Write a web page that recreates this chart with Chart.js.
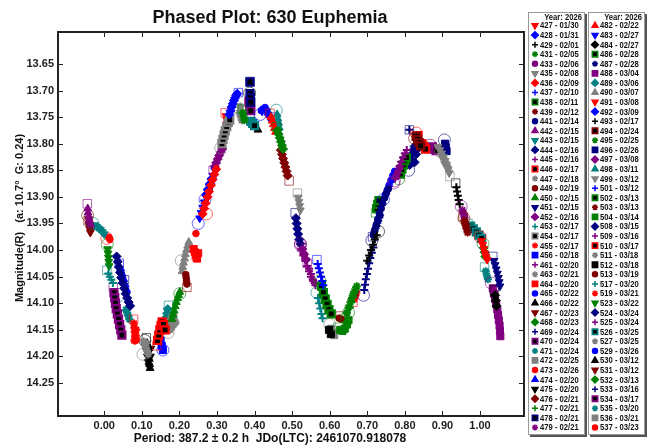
<!DOCTYPE html>
<html>
<head>
<meta charset="utf-8">
<script src="https://cdn.jsdelivr.net/npm/chart.js@4.4.1/dist/chart.umd.min.js"></script>
<style>
  html, body { margin: 0; padding: 0; background: #fff; }
  #wrap { width: 651px; height: 447px; position: relative; }
</style>
</head>
<body>
<div id="wrap"><canvas id="phased"></canvas></div>
<script>
const titleText = 'Phased Plot: 630 Euphemia';
const xTitle = 'Period: 387.2 \u00b1 0.2 h  JDo(LTC): 2461070.918078';
const yTitle = 'Magnitude(R)   (a: 10.7\u00b0  G: 0.24)';
const legendTitle = 'Year: 2026';

const xTicks = [0, 0.1, 0.2, 0.3, 0.4, 0.5, 0.6, 0.7, 0.8, 0.9, 1.0];
const yTicks = [13.65, 13.70, 13.75, 13.80, 13.85, 13.90, 13.95, 14.00, 14.05, 14.10, 14.15, 14.20, 14.25];

const sessions = ['427','428','429','431','433','435','436','437','438','439','441','442','443','444','445','446','447','449','450','451','452','453','454','455','456','461','463','464','465','466','467','468','469','470','471','472','473','474','475','476','477','478','479',
  '482','483','484','486','487','488','489','490','491','492','493','494','495','496','497','498','499','501','502','503','504','508','509','510','511','512','513','517','519','523','524','525','526','527','529','530','531','532','533','534','535','536','537'];
const dates = ['01/30','01/31','02/01','02/05','02/06','02/08','02/09','02/10','02/11','02/12','02/14','02/15','02/15','02/16','02/16','02/17','02/18','02/19','02/15','02/15','02/16','02/17','02/17','02/17','02/18','02/20','02/21','02/20','02/22','02/22','02/23','02/23','02/24','02/24','02/24','02/25','02/26','02/20','02/20','02/21','02/21','02/21','02/21',
  '02/22','02/27','02/27','02/28','02/28','03/04','03/06','03/07','03/08','03/09','02/17','02/24','02/25','02/26','03/08','03/11','03/12','03/12','03/13','03/13','03/14','03/15','03/16','03/17','03/18','03/18','03/19','03/20','03/21','03/22','03/24','03/24','03/25','03/25','03/26','03/12','03/12','03/13','03/16','03/17','03/20','03/21','03/23'];
const markers = ['tdn','dia','plus','ast','cir','tdn','dia','plus','sqb','ast','cir','tup','tdn','dia','plus','sqb','ast','cir','tup','tdn','dia','plus','sqb','ast','sq','plus','ast','sq','cir','tup','tdn','dia','plus','sqb','ast','sq','cir','tup','tdn','dia','plus','sqb','ast',
  'tup','tdn','dia','sqb','ast','sq','dia','tup','tdn','dia','plus','sqb','ast','sq','dia','tup','tdn','plus','sqb','ast','sq','dia','plus','sqb','ast','sq','cir','plus','ast','tdn','dia','plus','sqb','ast','cir','tup','tdn','dia','plus','sqb','ast','sq','cir'];
const colorNames = ['red','blue','black','green','purple','gray','red','blue','green','darkred','navy','purple','teal','navy','purple','red','gray','darkred','green','navy','purple','teal','gray','red','blue','purple','gray','red','blue','black','darkred','green','navy','purple','teal','gray','red','blue','black','darkred','green','navy','purple',
  'red','blue','black','green','navy','purple','teal','gray','red','blue','black','darkred','green','navy','purple','teal','gray','blue','green','darkred','green','navy','purple','red','gray','black','darkred','teal','red','green','navy','purple','teal','gray','blue','black','darkred','green','navy','purple','teal','gray','red'];

// [phase, magnitude] per session, same order as sessions
const points = [
  [[1.000,13.975],[1.004,13.983],[1.007,13.990],[1.010,13.998],[1.013,14.006],[1.016,14.012],[1.019,14.018]], // 427
  [[0.357,13.704],[0.333,13.745],[0.336,13.738],[0.339,13.731],[0.342,13.725],[0.345,13.719],[0.348,13.714],[0.351,13.709],[0.354,13.706]], // 428
  [[0.730,13.965],[0.700,14.020],[0.705,14.010],[0.710,14.000],[0.715,13.990],[0.720,13.980],[0.725,13.972]], // 429
  [[0.642,14.128],[0.646,14.118],[0.650,14.108],[0.655,14.098],[0.659,14.090],[0.663,14.082],[0.668,14.074],[0.672,14.068]], // 431
  [[0.772,13.870],[0.777,13.862],[0.781,13.853],[0.786,13.845]], // 433
  [[0.920,13.862],[0.888,13.806],[0.893,13.812],[0.898,13.818],[0.903,13.825],[0.907,13.832],[0.911,13.840],[0.915,13.848],[0.918,13.855],[0.896,13.822],[0.906,13.838]], // 435
  [[0.272,13.932],[0.262,13.932],[0.266,13.922],[0.270,13.912],[0.275,13.900],[0.279,13.890],[0.284,13.878],[0.288,13.868],[0.293,13.858],[0.298,13.848]], // 436
  [[0.566,14.018],[0.568,14.026],[0.571,14.034],[0.574,14.042],[0.577,14.050],[0.580,14.058],[0.583,14.066]], // 437
  [[0.574,14.058],[0.578,14.068],[0.583,14.080],[0.588,14.092],[0.593,14.102],[0.598,14.112],[0.604,14.120]], // 438
  [[0.955,13.937],[0.958,13.945],[0.961,13.952],[0.964,13.960],[0.967,13.967]], // 439
  [[0.712,13.982],[0.716,13.972],[0.720,13.962],[0.724,13.952],[0.728,13.942],[0.732,13.932],[0.737,13.922],[0.741,13.912],[0.746,13.902],[0.751,13.893],[0.756,13.885]], // 441
  [[-0.045,13.913],[-0.044,13.922],[-0.043,13.930],[-0.041,13.938],[-0.039,13.945],[-0.036,13.952]], // 442
  [[-0.030,13.950],[-0.025,13.953],[-0.020,13.956],[-0.015,13.959],[-0.010,13.962],[-0.005,13.966],[0.000,13.970]], // 443
  [[0.054,14.056],[0.033,14.012],[0.036,14.022],[0.039,14.032],[0.042,14.042],[0.045,14.052],[0.049,14.062],[0.053,14.072],[0.057,14.082],[0.061,14.090],[0.065,14.098],[0.069,14.105]], // 444
  [[0.770,13.874],[0.774,13.866],[0.778,13.858],[0.782,13.850],[0.786,13.842],[0.790,13.834],[0.795,13.826],[0.800,13.818],[0.805,13.812]], // 445
  [[0.140,14.180],[0.142,14.170],[0.145,14.160],[0.148,14.150],[0.151,14.142],[0.154,14.135],[0.158,14.140],[0.162,14.150]], // 446
  [[0.103,14.196],[0.105,14.172],[0.108,14.178],[0.111,14.184],[0.114,14.190],[0.117,14.196],[0.112,14.175]], // 447
  [[0.220,14.070],[0.217,14.046],[0.218,14.052],[0.219,14.058],[0.220,14.064]], // 449
  [[0.201,14.082],[0.180,14.130],[0.183,14.122],[0.186,14.114],[0.189,14.106],[0.192,14.098],[0.195,14.091],[0.198,14.085],[0.201,14.079]], // 450
  [[1.034,14.012],[1.037,14.020],[1.040,14.028],[1.043,14.036],[1.046,14.044],[1.049,14.052],[1.051,14.060],[1.053,14.068]], // 451
  [[0.522,13.988],[0.527,13.998],[0.532,14.008],[0.537,14.018]], // 452
  [[0.007,14.038],[0.011,14.044],[0.015,14.050],[0.019,14.056],[0.023,14.062]], // 453
  [[0.310,13.808],[0.313,13.800],[0.316,13.792],[0.319,13.784],[0.322,13.776],[0.326,13.768],[0.330,13.760],[0.334,13.755]], // 454
  [[0.078,14.130],[0.079,14.138],[0.080,14.146],[0.081,14.154],[0.082,14.162],[0.083,14.170],[0.086,14.168],[0.085,14.150],[0.084,14.160],[0.080,14.170]], // 455
  [[0.156,14.188],[0.150,14.170],[0.153,14.180],[0.156,14.188]], // 456
  [[0.540,14.025],[0.545,14.035],[0.550,14.045],[0.555,14.055],[0.560,14.062]], // 461
  [[0.170,14.155],[0.175,14.150],[0.180,14.145],[0.185,14.140],[0.190,14.136]], // 463
  [[0.245,14.012],[0.238,13.998],[0.241,14.004],[0.244,14.010],[0.247,14.016],[0.250,14.006]], // 464
  [[0.743,13.905],[0.748,13.896],[0.753,13.887],[0.758,13.878],[0.763,13.869],[0.768,13.860],[0.773,13.852]], // 465
  [[0.112,14.165],[0.114,14.175],[0.116,14.185],[0.118,14.195],[0.120,14.205],[0.121,14.215],[0.122,14.222]], // 466
  [[-0.044,13.935],[-0.042,13.942],[-0.040,13.950],[-0.038,13.957],[-0.036,13.964]], // 467
  [[0.458,13.768],[0.461,13.775],[0.464,13.782],[0.467,13.789],[0.470,13.796],[0.473,13.803],[0.476,13.810]], // 468
  [[0.690,14.085],[0.692,14.075],[0.694,14.065],[0.696,14.055],[0.699,14.045],[0.702,14.035],[0.705,14.025],[0.708,14.015],[0.712,14.005],[0.716,13.995]], // 469
  [[0.024,14.070],[0.026,14.080],[0.028,14.090],[0.030,14.100],[0.032,14.110],[0.035,14.120],[0.038,14.130],[0.041,14.140],[0.044,14.150],[0.047,14.160]], // 470
  [[0.055,14.105],[0.058,14.112],[0.061,14.118],[0.064,14.124],[0.067,14.130]], // 471
  [[0.172,14.142],[0.176,14.136],[0.180,14.130],[0.184,14.125]], // 472
  [[0.007,13.978],[0.012,13.976],[0.015,13.980]], // 473
  [[0.040,14.025],[0.044,14.035],[0.048,14.045],[0.052,14.055],[0.056,14.065],[0.060,14.075]], // 474
  [[0.108,14.170],[0.110,14.180],[0.113,14.190],[0.115,14.200],[0.117,14.210],[0.119,14.218],[0.123,14.200],[0.124,14.185]], // 475
  [[0.492,13.870],[0.470,13.812],[0.473,13.820],[0.476,13.828],[0.479,13.836],[0.482,13.844],[0.485,13.852],[0.488,13.860]], // 476
  [[0.650,14.118],[0.654,14.108],[0.658,14.098],[0.662,14.088],[0.666,14.080]], // 477
  [[0.388,13.683],[0.388,13.684],[0.388,13.706],[0.389,13.714],[0.390,13.722]], // 478
  [[0.950,13.918],[0.953,13.925],[0.956,13.932],[0.959,13.939]], // 479
  [[0.441,13.743],[0.444,13.750],[0.447,13.757],[0.450,13.764],[0.453,13.771],[0.456,13.778]], // 482
  [[0.250,13.950],[0.254,13.940],[0.258,13.930],[0.262,13.920],[0.266,13.910],[0.270,13.900],[0.274,13.890],[0.279,13.880],[0.284,13.870],[0.289,13.860],[0.294,13.850]], // 483
  [[1.038,14.075],[1.040,14.085],[1.042,14.095],[1.044,14.105]], // 484
  [[0.784,13.866],[0.788,13.857],[0.792,13.848],[0.796,13.840],[0.800,13.832],[0.804,13.826]], // 486
  [[0.714,13.975],[0.719,13.965],[0.724,13.955],[0.729,13.945],[0.734,13.935]], // 487
  [[1.030,14.062],[1.034,14.072],[1.037,14.082],[1.040,14.092],[1.043,14.102],[1.046,14.112],[1.048,14.122],[1.050,14.132],[1.052,14.142],[1.053,14.152],[1.054,14.162]], // 488
  [[0.171,14.104],[0.161,14.143],[0.163,14.135],[0.165,14.127],[0.167,14.119],[0.169,14.111]], // 489
  [[0.205,14.020],[0.207,14.040],[0.209,14.032],[0.211,14.024],[0.214,14.016],[0.216,14.008],[0.219,14.000],[0.222,13.992],[0.225,13.985]], // 490
  [[0.322,13.742],[0.324,13.748],[0.326,13.755],[0.327,13.762]], // 491
  [[0.268,13.905],[0.272,13.895],[0.277,13.885],[0.282,13.875],[0.287,13.865]], // 492
  [[0.935,13.874],[0.937,13.882],[0.939,13.890],[0.941,13.898],[0.943,13.906],[0.946,13.914]], // 493
  [[0.826,13.790],[0.830,13.786],[0.834,13.792],[0.838,13.798],[0.842,13.804]], // 494
  [[0.367,13.735],[0.369,13.742],[0.371,13.749],[0.373,13.756]], // 495
  [[0.905,13.793],[0.907,13.800],[0.909,13.807],[0.911,13.814]], // 496
  [[0.290,13.850],[0.294,13.843],[0.298,13.836],[0.302,13.829],[0.306,13.822],[0.310,13.816],[0.314,13.810]], // 497
  [[0.458,13.737],[0.460,13.745],[0.462,13.753],[0.464,13.761],[0.466,13.770]], // 498
  [[0.514,13.893],[0.516,13.901],[0.518,13.909],[0.520,13.917],[0.522,13.925]], // 499
  [[0.415,13.745],[0.420,13.740],[0.425,13.735],[0.430,13.738],[0.435,13.745],[0.440,13.750]], // 501
  [[0.722,13.930],[0.725,13.922],[0.728,13.914],[0.731,13.907]], // 502
  [[0.957,13.940],[0.960,13.948],[0.963,13.955]], // 503
  [[0.622,14.145],[0.628,14.150],[0.634,14.152],[0.640,14.148],[0.646,14.140],[0.650,14.132]], // 504
  [[0.810,13.850],[0.813,13.840],[0.816,13.830],[0.819,13.820],[0.822,13.812],[0.826,13.805],[0.830,13.820],[0.826,13.835],[0.834,13.810]], // 508
  [[0.525,13.995],[0.530,14.005],[0.535,14.015]], // 509
  [[0.830,13.780],[0.835,13.785],[0.845,13.800],[0.850,13.805],[0.855,13.810]], // 510
  [[0.357,13.735],[0.360,13.742],[0.363,13.749],[0.366,13.756],[0.362,13.730]], // 511
  [[0.387,13.705],[0.388,13.712],[0.389,13.719],[0.598,14.150],[0.603,14.158]], // 512
  [[0.628,14.124],[0.625,14.128],[0.631,14.130]], // 513
  [[0.566,14.080],[0.569,14.090],[0.572,14.100],[0.575,14.110],[0.578,14.120],[0.581,14.128]], // 517
  [[0.662,14.098],[0.665,14.092],[0.668,14.086],[0.671,14.080]], // 519
  [[0.008,13.990],[0.009,13.998],[0.010,14.006],[0.011,14.014],[0.012,14.022],[0.013,14.030]], // 523
  [[0.508,13.930],[0.510,13.940],[0.512,13.950],[0.514,13.960],[0.516,13.970],[0.519,13.980],[0.522,13.988]], // 524
  [[0.522,13.990],[0.526,14.000],[0.530,14.010],[0.535,14.020],[0.540,14.030],[0.545,14.040],[0.550,14.050],[0.556,14.058],[0.562,14.066]], // 525
  [[0.968,13.950],[0.975,13.955],[0.982,13.960],[0.990,13.966],[0.997,13.972],[1.004,13.978],[0.390,13.758],[0.395,13.762],[0.400,13.766]], // 526
  [[0.895,13.815],[0.900,13.822],[0.905,13.830],[0.910,13.838],[0.915,13.846]], // 527
  [[0.448,13.750],[0.418,13.738],[0.422,13.735],[0.428,13.732],[0.433,13.738],[0.438,13.745],[0.443,13.752]], // 529
  [[0.409,13.774]], // 530
  [[-0.043,13.945],[-0.041,13.953],[-0.039,13.960],[-0.037,13.967]], // 531
  [[1.008,13.988],[1.010,13.996],[1.012,14.004],[1.014,14.012]], // 532
  [[0.812,13.774],[0.812,13.774]], // 533
  [[0.868,13.803],[0.873,13.806],[0.878,13.810],[0.883,13.813],[0.385,13.722],[0.387,13.730],[0.390,13.738]], // 534
  [[1.012,14.032],[1.015,14.040],[1.018,14.048],[1.021,14.055]], // 535
  [[0.600,14.140],[0.604,14.148],[0.608,14.155],[0.612,14.160]], // 536
  [[0.244,13.969]] // 537
];

const palette = {
  red: '#ff0000', blue: '#0000ff', black: '#000000', green: '#008000', purple: '#800080',
  gray: '#808080', darkred: '#800000', navy: '#000080', teal: '#008080'
};
const shapeStyle = {
  tup:  { style: 'triangle', rot: 0,   r: 4.5 },
  tdn:  { style: 'triangle', rot: 180, r: 4.5 },
  dia:  { style: 'rectRot',  rot: 0,   r: 4.5 },
  plus: { style: 'cross',    rot: 0,   r: 4 },
  ast:  { style: 'star',     rot: 0,   r: 4 },
  cir:  { style: 'circle',   rot: 0,   r: 3.3 },
  sqb:  { style: 'rect',     rot: 0,   r: 5 },
  sq:   { style: 'rect',     rot: 0,   r: 5 }
};
const textFont = '"Liberation Sans", Arial, sans-serif';

function hexAlpha(hex, a) {
  const n = parseInt(hex.slice(1), 16);
  return `rgba(${n >> 16},${(n >> 8) & 255},${n & 255},${a})`;
}

// first point of a session is drawn as a hollow outline marker
const isOutline = c => c.dataIndex === 0 && c.dataset.data.length > 1;

const datasets = sessions.map((s, i) => {
  const col = palette[colorNames[i]];
  const sh = shapeStyle[markers[i]];
  const lineOnly = markers[i] === 'plus' || markers[i] === 'ast';
  return {
    label: `${s} - ${dates[i]}`,
    data: points[i].map(([x, y]) => ({ x, y })),
    showLine: false,
    pointStyle: c => isOutline(c) ? (i % 2 ? 'rect' : 'circle') : sh.style,
    pointRotation: c => isOutline(c) ? 0 : sh.rot,
    pointRadius: c => isOutline(c) ? 6 : sh.r,
    pointBackgroundColor: c => isOutline(c) ? 'rgba(0,0,0,0)' : (markers[i] === 'sqb' ? '#000' : col),
    pointBorderColor: c => isOutline(c) ? hexAlpha(col, 0.6) : col,
    pointBorderWidth: c => isOutline(c) ? 1 : (markers[i] === 'sqb' ? 2.2 : (lineOnly ? 2 : 1)),
  };
});

const decor = {
  id: 'decor',
  afterDraw(chart) {
    const { ctx, chartArea: a, scales: { x, y } } = chart;
    ctx.save();
    // frame + inward ticks
    ctx.strokeStyle = '#222';
    ctx.lineWidth = 2;
    ctx.strokeRect(a.left, a.top, a.right - a.left, a.bottom - a.top);
    ctx.lineWidth = 1;
    ctx.beginPath();
    xTicks.forEach(v => {
      const px = Math.round(x.getPixelForValue(v)) + 0.5;
      ctx.moveTo(px, a.top); ctx.lineTo(px, a.top + 5);
      ctx.moveTo(px, a.bottom); ctx.lineTo(px, a.bottom - 5);
    });
    yTicks.forEach(v => {
      const py = Math.round(y.getPixelForValue(v)) + 0.5;
      ctx.moveTo(a.left, py); ctx.lineTo(a.left + 5, py);
      ctx.moveTo(a.right, py); ctx.lineTo(a.right - 5, py);
    });
    ctx.stroke();

    // titles
    ctx.fillStyle = '#111';
    ctx.textAlign = 'center';
    ctx.textBaseline = 'middle';
    ctx.font = `bold 18px ${textFont}`;
    ctx.fillText(titleText, 270, 18);
    ctx.font = `bold 12px ${textFont}`;
    ctx.fillText(xTitle, 270, 439);
    ctx.save();
    ctx.translate(20, 218);
    ctx.rotate(-Math.PI / 2);
    ctx.font = `bold 11px ${textFont}`;
    ctx.fillText(yTitle, 0, 0);
    ctx.restore();

    // two-column legend
    const perCol = 43, rowH = 9.57, boxTop = 12, boxH = 423;
    [528, 588].forEach((bx, col) => {
      ctx.fillStyle = '#555';
      ctx.fillRect(bx + 2, boxTop + 2, 57, boxH);
      ctx.fillStyle = '#fff';
      ctx.fillRect(bx, boxTop, 57, boxH);
      ctx.strokeStyle = '#999';
      ctx.lineWidth = 1;
      ctx.strokeRect(bx + 0.5, boxTop + 0.5, 56, boxH - 1);
      ctx.fillStyle = '#111';
      ctx.font = `bold 9px ${textFont}`;
      ctx.textAlign = 'right';
      ctx.save();
      ctx.translate(bx + 54, boxTop + 5.5);
      ctx.scale(0.85, 1);
      ctx.fillText(legendTitle, 0, 0);
      ctx.restore();
      for (let r = 0; r < perCol; r++) {
        const i = col * perCol + r;
        if (i >= sessions.length) break;
        const ry = 25.5 + r * rowH;
        const colr = palette[colorNames[i]];
        const sh = shapeStyle[markers[i]];
        const sqb = markers[i] === 'sqb';
        ctx.fillStyle = sqb ? '#000' : colr;
        ctx.strokeStyle = colr;
        ctx.lineWidth = sqb ? 1.6 : 1.5;
        Chart.helpers.drawPoint(ctx, {
          pointStyle: sh.style, rotation: sh.rot, radius: sh.r * 0.75, borderWidth: 1
        }, bx + 7, ry);
        ctx.fillStyle = '#111';
        ctx.textAlign = 'left';
        ctx.font = `bold 9px ${textFont}`;
        ctx.save();
        ctx.translate(bx + 12, ry + 0.5);
        ctx.scale(0.85, 1);
        ctx.fillText(`${sessions[i]} - ${dates[i]}`, 0, 0);
        ctx.restore();
      }
    });
    ctx.restore();
  }
};

const tickFont = { family: textFont, size: 11, weight: 'bold' };

new Chart(document.getElementById('phased'), {
  type: 'scatter',
  data: { datasets },
  options: {
    responsive: true,
    maintainAspectRatio: false,
    animation: false,
    events: [],
    layout: { padding: { top: 32, right: 127, bottom: 0, left: 0 } },
    plugins: { legend: { display: false }, title: { display: false }, tooltip: { enabled: false } },
    scales: {
      x: {
        type: 'linear', min: -0.123, max: 1.117,
        grid: { display: false, drawTicks: false }, border: { display: false },
        ticks: { font: tickFont, color: '#222', padding: 3, maxRotation: 0, autoSkip: false,
                 callback: v => Number(v).toFixed(2) },
        afterBuildTicks: s => { s.ticks = xTicks.map(v => ({ value: v })); },
        afterFit: s => { s.height = 31; }
      },
      y: {
        type: 'linear', reverse: true, min: 13.59, max: 14.312,
        grid: { display: false, drawTicks: false }, border: { display: false },
        ticks: { font: tickFont, color: '#222', padding: 4, autoSkip: false,
                 callback: v => Number(v).toFixed(2) },
        afterBuildTicks: s => { s.ticks = yTicks.map(v => ({ value: v })); },
        afterFit: s => { s.width = 58; }
      }
    }
  },
  plugins: [decor]
});
</script>
</body>
</html>
